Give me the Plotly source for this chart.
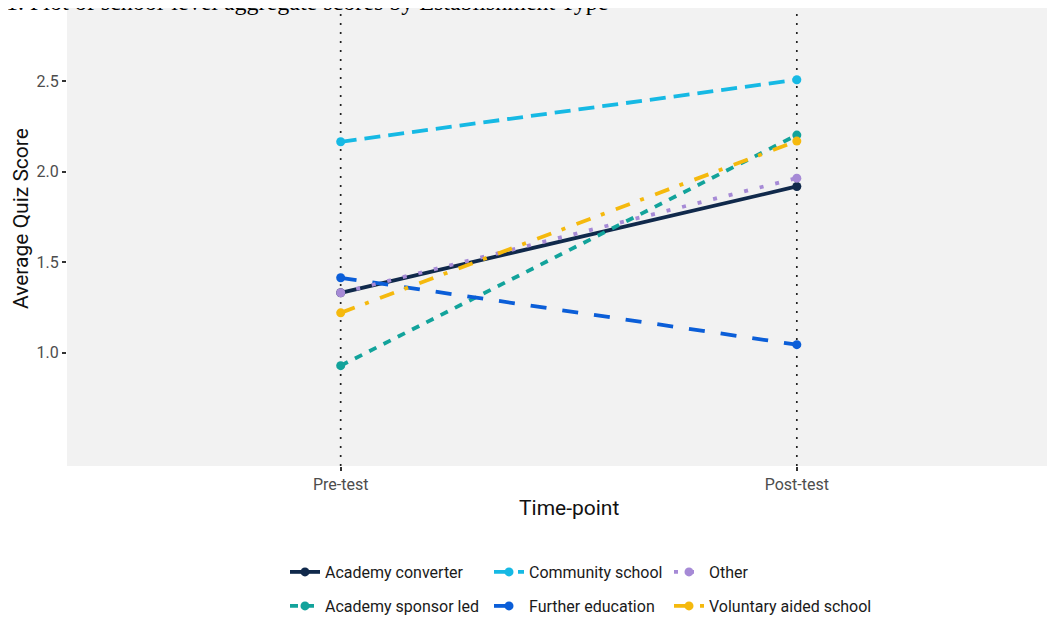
import plotly.graph_objects as go

# ---- data ----
timepoints = ["Pre-test", "Post-test"]
academy_converter = [1.331, 1.919]
academy_sponsor_led = [0.928, 2.203]
community_school = [2.166, 2.509]
further_education = [1.414, 1.044]
other = [1.331, 1.965]
voluntary_aided_school = [1.220, 2.170]

series_names = ["Academy converter", "Academy sponsor led", "Community school",
                "Further education", "Other", "Voluntary aided school"]
series_values = [academy_converter, academy_sponsor_led, community_school,
                 further_education, other, voluntary_aided_school]
y_ticks = [1.0, 1.5, 2.0, 2.5]
y_tick_labels = ["1.0", "1.5", "2.0", "2.5"]

# ---- styles ----
colors = ["#10294B", "#12A39B", "#16B9E4", "#0B5ED8", "#A68AD6", "#F5B90D"]
dashes = ["solid", "8px,8px", "16px,8px", "16px,16px", "4px,12px", "15px,11px,4px,12px"]

# the page body adds an 8px offset, so the figure is laid out 8px smaller
W, H = 1047, 610
ML, MR, MT, MB = 59, 0, 0, 152
PW = W - ML - MR
PH = H - MT - MB

FONT = "Roboto, sans-serif"


def px_x(fx):
    return (fx - ML) / PW


def px_y(fy):
    return 1 - (fy - MT) / PH


# legend placement in figure pixels (3 columns x 2 rows, column-major like ggplot)
col_px = [277, 481, 661]
row_px = [564, 598]

fig = go.Figure()
legend_layouts = {}
for i, (name, vals) in enumerate(zip(series_names, series_values)):
    col, row = divmod(i, 2)
    lname = "legend" if i == 0 else f"legend{i+1}"
    fig.add_trace(go.Scatter(
        x=timepoints, y=vals, name=name, mode="lines+markers",
        line=dict(color=colors[i], width=3.8, dash=dashes[i]),
        marker=dict(color=colors[i], size=9),
        legend=lname, showlegend=True,
    ))
    legend_layouts[lname] = dict(
        xref="container", yref="container",
        x=col_px[col] / W, xanchor="left",
        y=1 - row_px[row] / H, yanchor="middle",
        bgcolor="rgba(0,0,0,0)", borderwidth=0,
        font=dict(family=FONT, size=16, color="#1a1a1a"),
        itemwidth=30,
    )

# vertical dotted reference lines at the two time-points
for tp in timepoints:
    fig.add_shape(type="line", xref="x", yref="paper", x0=tp, x1=tp, y0=0, y1=1,
                  line=dict(color="#222222", width=1.7, dash="2px,7px"), layer="below")

# title (partly cut off at the top, as in the reference)
fig.add_annotation(
    text="1. Plot of school-level aggregate scores by Establishment Type",
    xref="paper", yref="paper", x=px_x(-4), y=px_y(9),
    xanchor="left", yanchor="bottom", showarrow=False,
    font=dict(family="Liberation Serif, serif", size=24, color="#000000"),
)
# axis titles
fig.add_annotation(
    text="Average Quiz Score", textangle=-90,
    xref="paper", yref="paper", x=px_x(13), y=px_y(211),
    xanchor="center", yanchor="middle", showarrow=False,
    font=dict(family=FONT, size=21, color="#111111"),
)
fig.add_annotation(
    text="Time-point",
    xref="paper", yref="paper", x=px_x(561), y=px_y(500),
    xanchor="center", yanchor="middle", showarrow=False,
    font=dict(family=FONT, size=21, color="#111111"),
)

fig.update_layout(
    width=W, height=H,
    margin=dict(l=ML, r=MR, t=MT, b=MB, autoexpand=False),
    paper_bgcolor="white", plot_bgcolor="#F2F2F2",
    font=dict(family=FONT, color="#1a1a1a"),
    **legend_layouts,
)
fig.update_xaxes(
    type="category", range=[-0.6, 1.566], showgrid=False, zeroline=False,
    ticks="outside", ticklen=4, tickwidth=1.5, tickcolor="#333333",
    tickfont=dict(family=FONT, size=16, color="#4D4D4D"),
    showline=False, automargin=False,
)
fig.update_yaxes(
    range=[0.373, 2.906], showgrid=False, zeroline=False,
    tickvals=y_ticks, ticktext=y_tick_labels,
    ticks="outside", ticklen=4, tickwidth=1.5, tickcolor="#333333",
    tickfont=dict(family=FONT, size=16, color="#4D4D4D"),
    showline=False, automargin=False,
)

fig.write_html("out.html")
